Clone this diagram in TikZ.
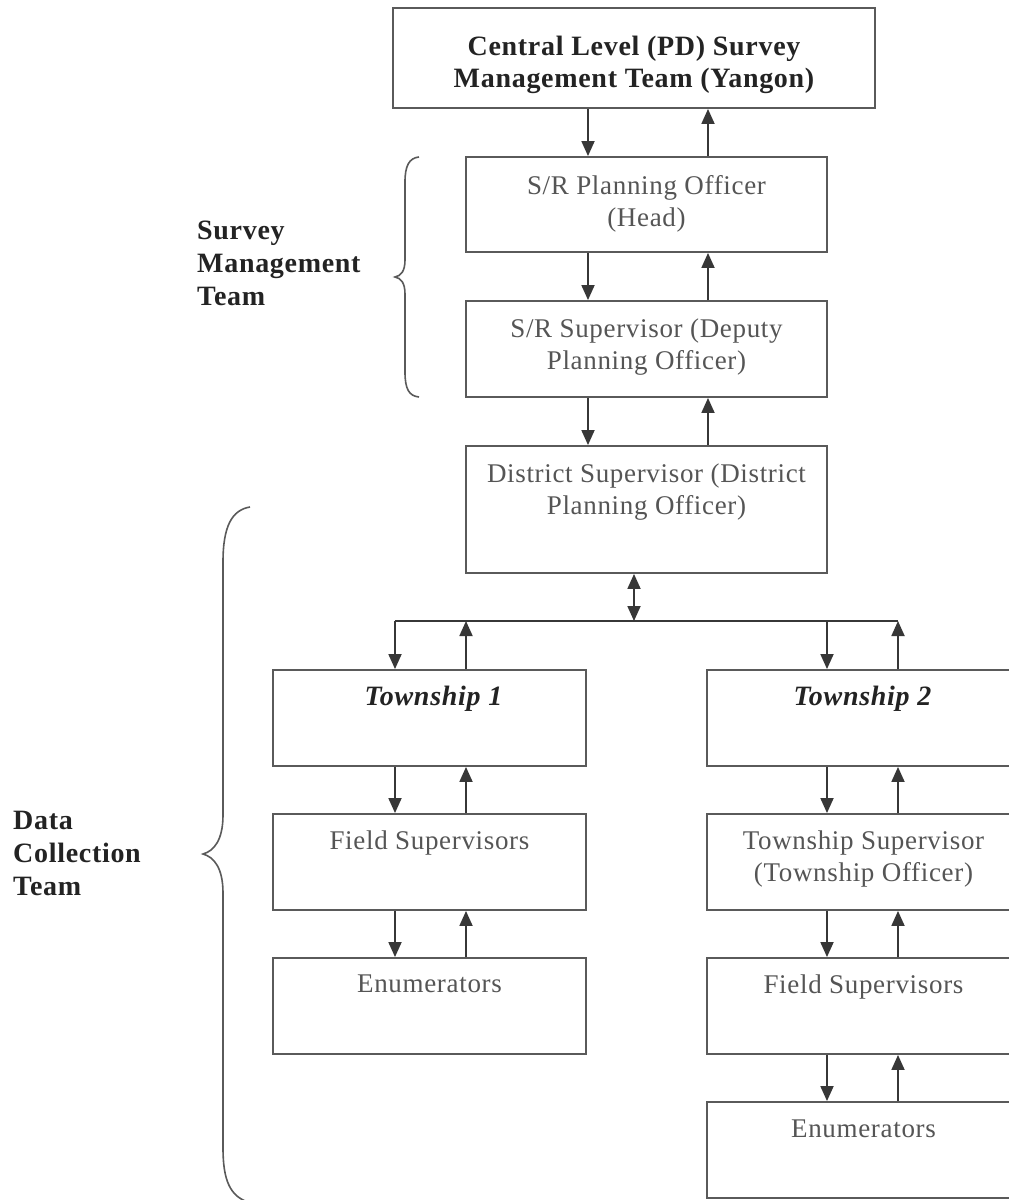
\documentclass[tikz,border=0pt]{standalone}
\usepackage{fontspec}
\setmainfont{Liberation Serif}[LetterSpace=2.5]
\usetikzlibrary{arrows.meta}
\definecolor{boxc}{RGB}{90,90,90}
\definecolor{arrc}{RGB}{55,55,55}
\definecolor{txtc}{RGB}{85,85,85}
\definecolor{boldc}{RGB}{35,35,35}
\begin{document}
\begin{tikzpicture}[x=1pt,y=-1pt,
  box/.style={draw=boxc, line width=1.9pt, rectangle, inner sep=0pt},
  txt/.style={anchor=north, align=center, text=txtc, inner sep=0pt, font=\fontsize{27}{32}\selectfont},
  btxt/.style={txt, text=boldc, font=\fontsize{28}{32}\selectfont\bfseries},
  side/.style={anchor=north west, align=left, text=boldc, inner sep=0pt, font=\fontsize{28}{33}\selectfont\bfseries},
  arr/.style={draw=arrc, line width=1.8pt, -{Triangle[width=13pt,length=15pt]}},
  darr/.style={draw=arrc, line width=1.8pt, {Triangle[width=13pt,length=15pt]}-{Triangle[width=13pt,length=15pt]}},
  hline/.style={draw=arrc, line width=1.8pt},
  brace/.style={draw=boxc, line width=1.6pt}]
\useasboundingbox (0,0) rectangle (1009,1200);
\fill[white] (0,0) rectangle (1009,1200);
\clip (0,0) rectangle (1009,1200);

% boxes
\node[box, minimum width=482pt, minimum height=100pt] (cen) at (634,58) {};
\node[box, minimum width=361pt, minimum height=95pt] (sr) at (646.5,204.5) {};
\node[box, minimum width=361pt, minimum height=96pt] (srs) at (646.5,349) {};
\node[box, minimum width=361pt, minimum height=127pt] (dis) at (646.5,509.5) {};
\node[box, minimum width=313pt, minimum height=96pt] (t1) at (429.5,718) {};
\node[box, minimum width=313pt, minimum height=96pt] (fs1) at (429.5,862) {};
\node[box, minimum width=313pt, minimum height=96pt] (en1) at (429.5,1006) {};
\node[box, minimum width=313pt, minimum height=96pt] (t2) at (863.5,718) {};
\node[box, minimum width=313pt, minimum height=96pt] (ts) at (863.5,862) {};
\node[box, minimum width=313pt, minimum height=96pt] (fs2) at (863.5,1006) {};
\node[box, minimum width=313pt, minimum height=96pt] (en2) at (863.5,1150) {};

% texts
\node[btxt] (cenT) at ([yshift=-29pt]cen.north) {Central Level (PD) Survey\\Management Team (Yangon)};
\node[txt] (srT) at ([yshift=-19pt]sr.north) {S/R Planning Officer\\(Head)};
\node[txt] (srsT) at ([yshift=-19pt]srs.north) {S/R Supervisor (Deputy\\Planning Officer)};
\node[txt] (disT) at ([yshift=-19pt]dis.north) {District Supervisor (District\\Planning Officer)};
\node[btxt] (t1T) at ([yshift=-17pt,xshift=4pt]t1.north) {\itshape Township 1};
\node[txt] (fs1T) at ([yshift=-18pt]fs1.north) {Field Supervisors};
\node[txt] (en1T) at ([yshift=-18pt]en1.north) {Enumerators};
\node[btxt] (t2T) at ([yshift=-17pt,xshift=-1pt]t2.north) {\itshape Township 2};
\node[txt] (tsT) at ([yshift=-18pt]ts.north) {Township Supervisor\\(Township Officer)};
\node[txt] (fs2T) at ([yshift=-18pt]fs2.north) {Field Supervisors};
\node[txt] (en2T) at ([yshift=-19pt]en2.north) {Enumerators};

% side labels
\node[side] (smt) at (197,221) {Survey\\Management\\Team};
\node[side] (dct) at (13,811) {Data\\Collection\\Team};

% arrow columns
\coordinate (xa) at (588,0);
\coordinate (xb) at (708,0);
\coordinate (xm) at (634,0);
\coordinate (xc) at (395,0);
\coordinate (xd) at (466,0);
\coordinate (xe) at (827,0);
\coordinate (xf) at (898,0);
\coordinate (hl) at (395,621);
\coordinate (hr) at (898,621);
\coordinate (hm) at (634,621);

\draw[arr] (cen.south -| xa) -- (sr.north -| xa);
\draw[arr] (sr.north -| xb) -- (cen.south -| xb);
\draw[arr] (sr.south -| xa) -- (srs.north -| xa);
\draw[arr] (srs.north -| xb) -- (sr.south -| xb);
\draw[arr] (srs.south -| xa) -- (dis.north -| xa);
\draw[arr] (dis.north -| xb) -- (srs.south -| xb);
\draw[darr] (dis.south -| xm) -- (hm);
\draw[hline] (hl) -- (hr);

\draw[arr] (hl) -- (t1.north -| xc);
\draw[arr] (t1.north -| xd) -- (hl -| xd);
\draw[arr] (hl -| xe) -- (t2.north -| xe);
\draw[arr] (t2.north -| xf) -- (hr);

\draw[arr] (t1.south -| xc) -- (fs1.north -| xc);
\draw[arr] (fs1.north -| xd) -- (t1.south -| xd);
\draw[arr] (fs1.south -| xc) -- (en1.north -| xc);
\draw[arr] (en1.north -| xd) -- (fs1.south -| xd);

\draw[arr] (t2.south -| xe) -- (ts.north -| xe);
\draw[arr] (ts.north -| xf) -- (t2.south -| xf);
\draw[arr] (ts.south -| xe) -- (fs2.north -| xe);
\draw[arr] (fs2.north -| xf) -- (ts.south -| xf);
\draw[arr] (fs2.south -| xe) -- (en2.north -| xe);
\draw[arr] (en2.north -| xf) -- (fs2.south -| xf);

% braces
\draw[brace] (419,157) .. controls (409,158) and (405,166) .. (405,182) -- (405,260) .. controls (405,271) and (401,276) .. (395,277) .. controls (401,278) and (405,283) .. (405,294) -- (405,372) .. controls (405,389) and (409,396) .. (419,397);
\draw[brace] (250,507) .. controls (232,510) and (223,526) .. (223,562) -- (223,815) .. controls (223,840) and (214,851) .. (203,854) .. controls (214,857) and (223,868) .. (223,893) -- (223,1148) .. controls (223,1180) and (230,1196) .. (248,1202);
\end{tikzpicture}
\end{document}
